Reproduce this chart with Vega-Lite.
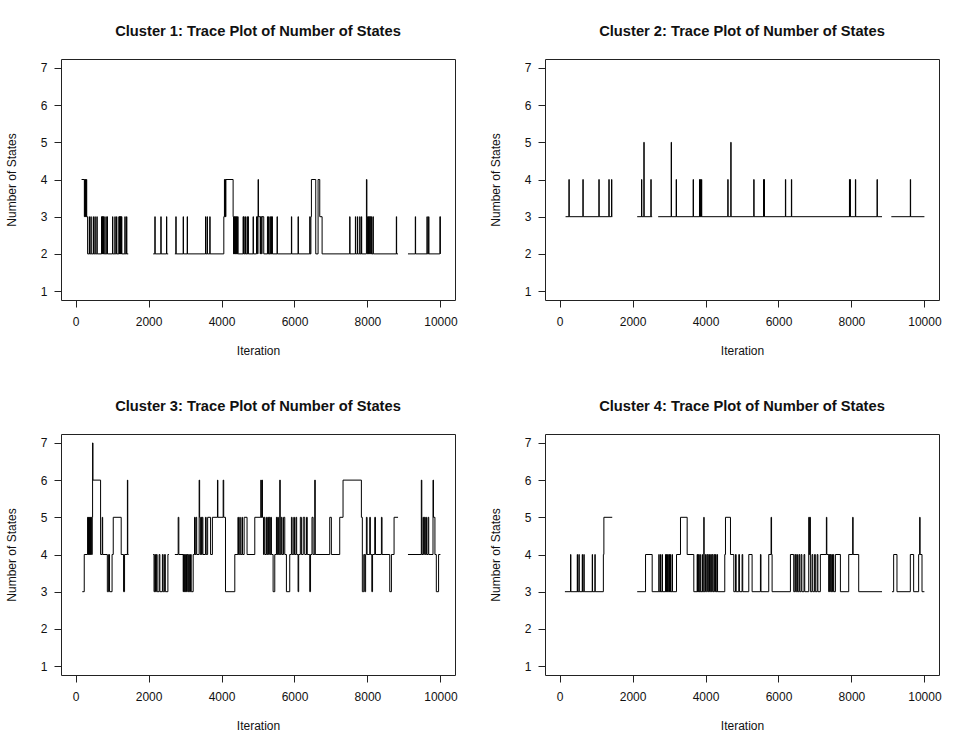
{
"$schema": "https://vega.github.io/schema/vega-lite/v6.json",
"padding": {"top": 23, "left": 4, "right": 5, "bottom": 5},
"background": "white",
"bounds": "flush",
"columns": 2,
"spacing": {"row": 134, "column": 90},
"config": {
 "font": "Liberation Sans",
 "view": {"stroke": "#222", "strokeWidth": 1},
 "axis": {"grid": false, "domain": false, "ticks": true, "tickColor": "#222", "tickSize": 7, "labelFontSize": 12, "titleFontSize": 12, "titleFontWeight": "normal", "labelColor": "#111", "titleColor": "#111", "labelFont": "Liberation Sans", "titleFont": "Liberation Sans", "labelFlush": false},
 "axisX": {"labelPadding": 9, "titlePadding": 18},
 "axisY": {"labelPadding": 7, "titlePadding": 22, "labelAngle": 0},
 "title": {"fontSize": 14.7, "fontWeight": "bold", "font": "Liberation Sans", "offset": 20, "anchor": "middle", "color": "#111"}
},
"datasets": {
"p1": [{"s":1,"i":164,"v":4},{"s":1,"i":240,"v":3},{"s":1,"i":250,"v":4},{"s":1,"i":262,"v":3},{"s":1,"i":272,"v":4},{"s":1,"i":285,"v":3},{"s":1,"i":295,"v":4},{"s":1,"i":305,"v":3},{"s":1,"i":329,"v":2},
{"s":1,"i":374,"v":3},{"s":1,"i":382,"v":2},{"s":1,"i":420,"v":3},{"s":1,"i":428,"v":2},{"s":1,"i":484,"v":3},{"s":1,"i":492,"v":2},{"s":1,"i":530,"v":3},{"s":1,"i":538,"v":2},{"s":1,"i":584,"v":3},{"s":1,"i":592,"v":2},{"s":1,"i":712,"v":3},{"s":1,"i":720,"v":2},{"s":1,"i":725,"v":3},{"s":1,"i":733,"v":2},{"s":1,"i":740,"v":3},{"s":1,"i":748,"v":2},{"s":1,"i":760,"v":3},{"s":1,"i":768,"v":2},{"s":1,"i":776,"v":3},{"s":1,"i":784,"v":2},{"s":1,"i":831,"v":3},{"s":1,"i":839,"v":2},{"s":1,"i":867,"v":3},{"s":1,"i":875,"v":2},{"s":1,"i":1013,"v":3},{"s":1,"i":1021,"v":2},{"s":1,"i":1077,"v":3},{"s":1,"i":1085,"v":2},{"s":1,"i":1123,"v":3},{"s":1,"i":1131,"v":2},{"s":1,"i":1187,"v":3},{"s":1,"i":1195,"v":2},{"s":1,"i":1200,"v":3},{"s":1,"i":1208,"v":2},{"s":1,"i":1214,"v":3},{"s":1,"i":1222,"v":2},{"s":1,"i":1228,"v":3},{"s":1,"i":1236,"v":2},{"s":1,"i":1242,"v":3},{"s":1,"i":1250,"v":2},{"s":1,"i":1260,"v":3},{"s":1,"i":1268,"v":2},{"s":1,"i":1351,"v":3},{"s":1,"i":1359,"v":2},{"s":1,"i":1397,"v":3},{"s":1,"i":1405,"v":2},{"s":1,"i":1443,"v":2},
{"s":2,"i":2127,"v":2},{"s":2,"i":2173,"v":3},{"s":2,"i":2181,"v":2},{"s":2,"i":2337,"v":3},{"s":2,"i":2345,"v":2},{"s":2,"i":2492,"v":3},{"s":2,"i":2500,"v":2},{"s":2,"i":2538,"v":2},
{"s":3,"i":2721,"v":2},{"s":3,"i":2748,"v":3},{"s":3,"i":2756,"v":2},{"s":3,"i":2949,"v":3},{"s":3,"i":2957,"v":2},{"s":3,"i":3059,"v":3},{"s":3,"i":3067,"v":2},{"s":3,"i":3561,"v":3},{"s":3,"i":3569,"v":2},{"s":3,"i":3606,"v":3},{"s":3,"i":3614,"v":2},{"s":3,"i":3679,"v":3},{"s":3,"i":3687,"v":2},
{"s":3,"i":4063,"v":3},{"s":3,"i":4080,"v":4},{"s":3,"i":4090,"v":3},{"s":3,"i":4100,"v":4},{"s":3,"i":4110,"v":3},{"s":3,"i":4120,"v":4},{"s":3,"i":4318,"v":3},{"s":3,"i":4330,"v":2},{"s":3,"i":4340,"v":3},{"s":3,"i":4350,"v":2},{"s":3,"i":4360,"v":3},{"s":3,"i":4372,"v":2},{"s":3,"i":4385,"v":3},{"s":3,"i":4398,"v":2},{"s":3,"i":4410,"v":3},{"s":3,"i":4425,"v":2},{"s":3,"i":4440,"v":3},{"s":3,"i":4455,"v":2},
{"s":3,"i":4592,"v":3},{"s":3,"i":4600,"v":2},{"s":3,"i":4610,"v":3},{"s":3,"i":4618,"v":2},{"s":3,"i":4650,"v":3},{"s":3,"i":4658,"v":2},{"s":3,"i":4700,"v":3},{"s":3,"i":4708,"v":2},{"s":3,"i":4729,"v":3},{"s":3,"i":4737,"v":2},{"s":3,"i":4866,"v":3},{"s":3,"i":4874,"v":2},
{"s":3,"i":4959,"v":3},{"s":3,"i":4990,"v":2},{"s":3,"i":4998,"v":3},{"s":3,"i":5003,"v":4},{"s":3,"i":5012,"v":3},{"s":3,"i":5060,"v":2},{"s":3,"i":5070,"v":3},{"s":3,"i":5100,"v":2},{"s":3,"i":5110,"v":3},{"s":3,"i":5158,"v":2},
{"s":3,"i":5259,"v":3},{"s":3,"i":5267,"v":2},{"s":3,"i":5290,"v":3},{"s":3,"i":5298,"v":2},{"s":3,"i":5330,"v":3},{"s":3,"i":5338,"v":2},{"s":3,"i":5360,"v":3},{"s":3,"i":5368,"v":2},{"s":3,"i":5387,"v":3},{"s":3,"i":5395,"v":2},{"s":3,"i":5523,"v":3},{"s":3,"i":5531,"v":2},{"s":3,"i":5916,"v":3},{"s":3,"i":5924,"v":2},{"s":3,"i":6099,"v":3},{"s":3,"i":6107,"v":2},{"s":3,"i":6419,"v":3},{"s":3,"i":6427,"v":2},
{"s":3,"i":6450,"v":3},{"s":3,"i":6464,"v":4},{"s":3,"i":6583,"v":2},{"s":3,"i":6647,"v":4},{"s":3,"i":6693,"v":3},{"s":3,"i":6757,"v":2},
{"s":3,"i":7514,"v":3},{"s":3,"i":7522,"v":2},{"s":3,"i":7670,"v":3},{"s":3,"i":7678,"v":2},{"s":3,"i":7725,"v":3},{"s":3,"i":7733,"v":2},{"s":3,"i":7789,"v":3},{"s":3,"i":7797,"v":2},{"s":3,"i":7835,"v":3},{"s":3,"i":7843,"v":2},
{"s":3,"i":7972,"v":4},{"s":3,"i":7985,"v":3},{"s":3,"i":8000,"v":2},{"s":3,"i":8015,"v":3},{"s":3,"i":8030,"v":2},{"s":3,"i":8045,"v":3},{"s":3,"i":8060,"v":2},{"s":3,"i":8075,"v":3},{"s":3,"i":8090,"v":2},{"s":3,"i":8109,"v":3},{"s":3,"i":8120,"v":2},
{"s":3,"i":8153,"v":3},{"s":3,"i":8161,"v":2},{"s":3,"i":8792,"v":3},{"s":3,"i":8800,"v":2},{"s":3,"i":8838,"v":2},
{"s":4,"i":9111,"v":2},{"s":4,"i":9312,"v":3},{"s":4,"i":9320,"v":2},{"s":4,"i":9632,"v":3},{"s":4,"i":9640,"v":2},{"s":4,"i":9677,"v":3},{"s":4,"i":9685,"v":2},{"s":4,"i":9985,"v":3},{"s":4,"i":10000,"v":2}],
"p2": [{"s":1,"i":164,"v":3},{"s":1,"i":256,"v":4},{"s":1,"i":264,"v":3},{"s":1,"i":639,"v":4},{"s":1,"i":647,"v":3},{"s":1,"i":1077,"v":4},{"s":1,"i":1085,"v":3},{"s":1,"i":1351,"v":4},{"s":1,"i":1359,"v":3},{"s":1,"i":1424,"v":4},{"s":1,"i":1432,"v":3},{"s":1,"i":1443,"v":3},
{"s":2,"i":2127,"v":3},{"s":2,"i":2246,"v":4},{"s":2,"i":2254,"v":3},{"s":2,"i":2310,"v":5},{"s":2,"i":2318,"v":3},{"s":2,"i":2502,"v":4},{"s":2,"i":2510,"v":3},{"s":2,"i":2538,"v":3},
{"s":3,"i":2702,"v":3},{"s":3,"i":3059,"v":5},{"s":3,"i":3067,"v":3},{"s":3,"i":3196,"v":4},{"s":3,"i":3204,"v":3},{"s":3,"i":3661,"v":4},{"s":3,"i":3669,"v":3},{"s":3,"i":3835,"v":4},{"s":3,"i":3843,"v":3},{"s":3,"i":3855,"v":4},{"s":3,"i":3863,"v":3},{"s":3,"i":3889,"v":4},{"s":3,"i":3897,"v":3},{"s":3,"i":4611,"v":4},{"s":3,"i":4619,"v":3},{"s":3,"i":4693,"v":5},{"s":3,"i":4701,"v":3},{"s":3,"i":5323,"v":4},{"s":3,"i":5331,"v":3},{"s":3,"i":5590,"v":4},{"s":3,"i":5598,"v":3},{"s":3,"i":5608,"v":4},{"s":3,"i":5616,"v":3},{"s":3,"i":6190,"v":4},{"s":3,"i":6198,"v":3},{"s":3,"i":6354,"v":4},{"s":3,"i":6362,"v":3},{"s":3,"i":7945,"v":4},{"s":3,"i":7953,"v":3},{"s":3,"i":7963,"v":4},{"s":3,"i":7971,"v":3},{"s":3,"i":8109,"v":4},{"s":3,"i":8117,"v":3},{"s":3,"i":8702,"v":4},{"s":3,"i":8710,"v":3},{"s":3,"i":8838,"v":3},
{"s":4,"i":9093,"v":3},{"s":4,"i":9614,"v":4},{"s":4,"i":9622,"v":3},{"s":4,"i":10000,"v":3}],
"p3": [{"s":1,"i":183,"v":3},{"s":1,"i":237,"v":4},{"s":1,"i":330,"v":5},{"s":1,"i":340,"v":4},{"s":1,"i":352,"v":5},{"s":1,"i":362,"v":4},{"s":1,"i":375,"v":5},{"s":1,"i":385,"v":4},{"s":1,"i":398,"v":5},{"s":1,"i":410,"v":4},{"s":1,"i":425,"v":5},{"s":1,"i":440,"v":4},{"s":1,"i":456,"v":5},{"s":1,"i":466,"v":7},{"s":1,"i":476,"v":6},{"s":1,"i":685,"v":4},{"s":1,"i":730,"v":5},{"s":1,"i":742,"v":4},{"s":1,"i":870,"v":3},{"s":1,"i":905,"v":4},{"s":1,"i":930,"v":3},{"s":1,"i":1000,"v":4},{"s":1,"i":1032,"v":5},{"s":1,"i":1250,"v":4},{"s":1,"i":1315,"v":3},{"s":1,"i":1342,"v":4},{"s":1,"i":1420,"v":6},{"s":1,"i":1430,"v":4},{"s":1,"i":1452,"v":4},
{"s":2,"i":2127,"v":4},{"s":2,"i":2150,"v":3},{"s":2,"i":2170,"v":4},{"s":2,"i":2190,"v":3},{"s":2,"i":2215,"v":4},{"s":2,"i":2235,"v":3},{"s":2,"i":2290,"v":4},{"s":2,"i":2310,"v":3},{"s":2,"i":2380,"v":4},{"s":2,"i":2400,"v":3},{"s":2,"i":2440,"v":4},{"s":2,"i":2460,"v":3},{"s":2,"i":2530,"v":4},{"s":2,"i":2557,"v":4},
{"s":3,"i":2721,"v":4},{"s":3,"i":2812,"v":5},{"s":3,"i":2830,"v":4},{"s":3,"i":2949,"v":3},{"s":3,"i":2960,"v":4},{"s":3,"i":2975,"v":3},{"s":3,"i":2990,"v":4},{"s":3,"i":3005,"v":3},{"s":3,"i":3020,"v":4},{"s":3,"i":3040,"v":3},{"s":3,"i":3060,"v":4},{"s":3,"i":3080,"v":3},{"s":3,"i":3100,"v":4},{"s":3,"i":3120,"v":3},{"s":3,"i":3150,"v":4},{"s":3,"i":3170,"v":3},{"s":3,"i":3223,"v":4},{"s":3,"i":3260,"v":5},{"s":3,"i":3275,"v":4},{"s":3,"i":3300,"v":5},{"s":3,"i":3320,"v":4},{"s":3,"i":3387,"v":6},{"s":3,"i":3400,"v":5},{"s":3,"i":3420,"v":4},{"s":3,"i":3440,"v":5},{"s":3,"i":3455,"v":4},{"s":3,"i":3470,"v":5},{"s":3,"i":3490,"v":4},{"s":3,"i":3560,"v":5},{"s":3,"i":3580,"v":4},{"s":3,"i":3620,"v":5},{"s":3,"i":3700,"v":4},{"s":3,"i":3750,"v":5},{"s":3,"i":3889,"v":6},{"s":3,"i":3900,"v":5},{"s":3,"i":4045,"v":6},{"s":3,"i":4060,"v":5},{"s":3,"i":4109,"v":3},{"s":3,"i":4364,"v":4},{"s":3,"i":4450,"v":5},{"s":3,"i":4465,"v":4},{"s":3,"i":4500,"v":5},{"s":3,"i":4515,"v":4},{"s":3,"i":4560,"v":5},{"s":3,"i":4575,"v":4},{"s":3,"i":4620,"v":5},{"s":3,"i":4700,"v":4},{"s":3,"i":4912,"v":5},{"s":3,"i":5076,"v":6},{"s":3,"i":5090,"v":5},{"s":3,"i":5110,"v":6},{"s":3,"i":5122,"v":5},{"s":3,"i":5150,"v":4},{"s":3,"i":5170,"v":5},{"s":3,"i":5190,"v":4},{"s":3,"i":5231,"v":5},{"s":3,"i":5250,"v":4},{"s":3,"i":5270,"v":5},{"s":3,"i":5290,"v":4},{"s":3,"i":5310,"v":5},{"s":3,"i":5330,"v":4},{"s":3,"i":5350,"v":5},{"s":3,"i":5368,"v":4},{"s":3,"i":5414,"v":3},{"s":3,"i":5460,"v":4},{"s":3,"i":5505,"v":5},{"s":3,"i":5520,"v":4},{"s":3,"i":5540,"v":5},{"s":3,"i":5560,"v":4},{"s":3,"i":5596,"v":6},{"s":3,"i":5610,"v":4},{"s":3,"i":5640,"v":5},{"s":3,"i":5660,"v":4},{"s":3,"i":5700,"v":5},{"s":3,"i":5734,"v":4},{"s":3,"i":5779,"v":3},{"s":3,"i":5870,"v":4},{"s":3,"i":5916,"v":5},{"s":3,"i":5935,"v":4},{"s":3,"i":5980,"v":5},{"s":3,"i":6000,"v":4},{"s":3,"i":6040,"v":5},{"s":3,"i":6060,"v":4},{"s":3,"i":6099,"v":3},{"s":3,"i":6115,"v":4},{"s":3,"i":6160,"v":5},{"s":3,"i":6190,"v":4},{"s":3,"i":6240,"v":5},{"s":3,"i":6281,"v":4},{"s":3,"i":6330,"v":5},{"s":3,"i":6350,"v":4},{"s":3,"i":6418,"v":3},{"s":3,"i":6440,"v":4},{"s":3,"i":6480,"v":5},{"s":3,"i":6510,"v":4},{"s":3,"i":6555,"v":6},{"s":3,"i":6570,"v":4},{"s":3,"i":6966,"v":5},{"s":3,"i":7011,"v":4},{"s":3,"i":7240,"v":5},{"s":3,"i":7331,"v":6},{"s":3,"i":7834,"v":5},{"s":3,"i":7860,"v":3},{"s":3,"i":7900,"v":4},{"s":3,"i":7926,"v":3},{"s":3,"i":7950,"v":4},{"s":3,"i":7971,"v":5},{"s":3,"i":7990,"v":4},{"s":3,"i":8063,"v":5},{"s":3,"i":8080,"v":4},{"s":3,"i":8120,"v":3},{"s":3,"i":8140,"v":4},{"s":3,"i":8200,"v":5},{"s":3,"i":8220,"v":4},{"s":3,"i":8383,"v":5},{"s":3,"i":8400,"v":4},{"s":3,"i":8611,"v":3},{"s":3,"i":8657,"v":4},{"s":3,"i":8730,"v":5},{"s":3,"i":8839,"v":5},
{"s":4,"i":9111,"v":4},{"s":4,"i":9477,"v":6},{"s":4,"i":9490,"v":4},{"s":4,"i":9523,"v":5},{"s":4,"i":9540,"v":4},{"s":4,"i":9560,"v":5},{"s":4,"i":9580,"v":4},{"s":4,"i":9600,"v":5},{"s":4,"i":9620,"v":4},{"s":4,"i":9660,"v":5},{"s":4,"i":9680,"v":4},{"s":4,"i":9797,"v":6},{"s":4,"i":9810,"v":5},{"s":4,"i":9850,"v":4},{"s":4,"i":9888,"v":3},{"s":4,"i":9950,"v":4},{"s":4,"i":10000,"v":4}],
"p4": [{"s":1,"i":146,"v":3},{"s":1,"i":301,"v":4},{"s":1,"i":309,"v":3},{"s":1,"i":484,"v":4},{"s":1,"i":492,"v":3},{"s":1,"i":530,"v":4},{"s":1,"i":538,"v":3},{"s":1,"i":621,"v":4},{"s":1,"i":629,"v":3},{"s":1,"i":666,"v":4},{"s":1,"i":674,"v":3},{"s":1,"i":895,"v":4},{"s":1,"i":903,"v":3},{"s":1,"i":968,"v":4},{"s":1,"i":976,"v":3},{"s":1,"i":1200,"v":4},{"s":1,"i":1214,"v":5},{"s":1,"i":1443,"v":5},
{"s":2,"i":2127,"v":3},{"s":2,"i":2356,"v":4},{"s":2,"i":2538,"v":3},{"s":2,"i":2721,"v":4},{"s":2,"i":2729,"v":3},{"s":2,"i":2766,"v":4},{"s":2,"i":2774,"v":3},{"s":2,"i":2812,"v":4},{"s":2,"i":2820,"v":3},{"s":2,"i":2903,"v":4},{"s":2,"i":2911,"v":3},{"s":2,"i":2930,"v":4},{"s":2,"i":2938,"v":3},{"s":2,"i":2949,"v":4},{"s":2,"i":2957,"v":3},{"s":2,"i":2990,"v":4},{"s":2,"i":2998,"v":3},{"s":2,"i":3013,"v":4},{"s":2,"i":3021,"v":3},{"s":2,"i":3040,"v":4},{"s":2,"i":3048,"v":3},{"s":2,"i":3086,"v":4},{"s":2,"i":3094,"v":3},{"s":2,"i":3205,"v":4},{"s":2,"i":3314,"v":5},{"s":2,"i":3497,"v":4},{"s":2,"i":3679,"v":3},{"s":2,"i":3771,"v":4},{"s":2,"i":3779,"v":3},{"s":2,"i":3790,"v":4},{"s":2,"i":3798,"v":3},{"s":2,"i":3816,"v":4},{"s":2,"i":3824,"v":3},{"s":2,"i":3850,"v":4},{"s":2,"i":3858,"v":3},{"s":2,"i":3908,"v":4},{"s":2,"i":3916,"v":3},{"s":2,"i":3953,"v":5},{"s":2,"i":3962,"v":3},{"s":2,"i":3999,"v":4},{"s":2,"i":4020,"v":3},{"s":2,"i":4050,"v":4},{"s":2,"i":4070,"v":3},{"s":2,"i":4090,"v":4},{"s":2,"i":4110,"v":3},{"s":2,"i":4140,"v":4},{"s":2,"i":4160,"v":3},{"s":2,"i":4182,"v":4},{"s":2,"i":4200,"v":3},{"s":2,"i":4230,"v":4},{"s":2,"i":4250,"v":3},{"s":2,"i":4273,"v":4},{"s":2,"i":4290,"v":3},{"s":2,"i":4318,"v":4},{"s":2,"i":4330,"v":3},{"s":2,"i":4528,"v":4},{"s":2,"i":4547,"v":5},{"s":2,"i":4684,"v":4},{"s":2,"i":4775,"v":3},{"s":2,"i":4821,"v":4},{"s":2,"i":4840,"v":3},{"s":2,"i":4912,"v":4},{"s":2,"i":4930,"v":3},{"s":2,"i":5003,"v":4},{"s":2,"i":5020,"v":3},{"s":2,"i":5186,"v":4},{"s":2,"i":5277,"v":3},{"s":2,"i":5505,"v":4},{"s":2,"i":5520,"v":3},{"s":2,"i":5733,"v":4},{"s":2,"i":5797,"v":5},{"s":2,"i":5810,"v":4},{"s":2,"i":5825,"v":3},{"s":2,"i":6327,"v":4},{"s":2,"i":6418,"v":3},{"s":2,"i":6450,"v":4},{"s":2,"i":6470,"v":3},{"s":2,"i":6500,"v":4},{"s":2,"i":6520,"v":3},{"s":2,"i":6560,"v":4},{"s":2,"i":6580,"v":3},{"s":2,"i":6620,"v":4},{"s":2,"i":6640,"v":3},{"s":2,"i":6700,"v":4},{"s":2,"i":6720,"v":3},{"s":2,"i":6829,"v":5},{"s":2,"i":6845,"v":4},{"s":2,"i":6860,"v":5},{"s":2,"i":6875,"v":3},{"s":2,"i":6920,"v":4},{"s":2,"i":6940,"v":3},{"s":2,"i":6990,"v":4},{"s":2,"i":7010,"v":3},{"s":2,"i":7060,"v":4},{"s":2,"i":7080,"v":3},{"s":2,"i":7148,"v":4},{"s":2,"i":7313,"v":5},{"s":2,"i":7325,"v":4},{"s":2,"i":7377,"v":3},{"s":2,"i":7390,"v":4},{"s":2,"i":7405,"v":3},{"s":2,"i":7420,"v":4},{"s":2,"i":7440,"v":3},{"s":2,"i":7460,"v":4},{"s":2,"i":7480,"v":3},{"s":2,"i":7500,"v":4},{"s":2,"i":7514,"v":3},{"s":2,"i":7560,"v":4},{"s":2,"i":7697,"v":3},{"s":2,"i":7925,"v":4},{"s":2,"i":8034,"v":5},{"s":2,"i":8046,"v":4},{"s":2,"i":8199,"v":3},{"s":2,"i":8838,"v":3},
{"s":3,"i":9111,"v":3},{"s":3,"i":9157,"v":4},{"s":3,"i":9248,"v":3},{"s":3,"i":9614,"v":4},{"s":3,"i":9705,"v":3},{"s":3,"i":9842,"v":4},{"s":3,"i":9870,"v":5},{"s":3,"i":9882,"v":4},{"s":3,"i":9934,"v":3},{"s":3,"i":10000,"v":3}]
},
"concat": [
{"title": "Cluster 1: Trace Plot of Number of States", "data": {"name": "p1"}, "width": 394, "height": 241,
 "mark": {"type": "line", "interpolate": "step-after", "color": "#000", "strokeWidth": 1},
 "encoding": {
  "x": {"field": "i", "type": "quantitative", "scale": {"domain": [-400, 10400], "nice": false, "zero": false}, "axis": {"values": [0,2000,4000,6000,8000,10000], "format": "d", "title": "Iteration"}},
  "y": {"field": "v", "type": "quantitative", "scale": {"domain": [0.76, 7.24], "nice": false, "zero": false}, "axis": {"values": [1,2,3,4,5,6,7], "title": "Number of States"}},
  "detail": {"field": "s", "type": "nominal"}}},
{"title": "Cluster 2: Trace Plot of Number of States", "data": {"name": "p2"}, "width": 394, "height": 241,
 "mark": {"type": "line", "interpolate": "step-after", "color": "#000", "strokeWidth": 1},
 "encoding": {
  "x": {"field": "i", "type": "quantitative", "scale": {"domain": [-400, 10400], "nice": false, "zero": false}, "axis": {"values": [0,2000,4000,6000,8000,10000], "format": "d", "title": "Iteration"}},
  "y": {"field": "v", "type": "quantitative", "scale": {"domain": [0.76, 7.24], "nice": false, "zero": false}, "axis": {"values": [1,2,3,4,5,6,7], "title": "Number of States"}},
  "detail": {"field": "s", "type": "nominal"}}},
{"title": "Cluster 3: Trace Plot of Number of States", "data": {"name": "p3"}, "width": 394, "height": 241,
 "mark": {"type": "line", "interpolate": "step-after", "color": "#000", "strokeWidth": 1},
 "encoding": {
  "x": {"field": "i", "type": "quantitative", "scale": {"domain": [-400, 10400], "nice": false, "zero": false}, "axis": {"values": [0,2000,4000,6000,8000,10000], "format": "d", "title": "Iteration"}},
  "y": {"field": "v", "type": "quantitative", "scale": {"domain": [0.76, 7.24], "nice": false, "zero": false}, "axis": {"values": [1,2,3,4,5,6,7], "title": "Number of States"}},
  "detail": {"field": "s", "type": "nominal"}}},
{"title": "Cluster 4: Trace Plot of Number of States", "data": {"name": "p4"}, "width": 394, "height": 241,
 "mark": {"type": "line", "interpolate": "step-after", "color": "#000", "strokeWidth": 1},
 "encoding": {
  "x": {"field": "i", "type": "quantitative", "scale": {"domain": [-400, 10400], "nice": false, "zero": false}, "axis": {"values": [0,2000,4000,6000,8000,10000], "format": "d", "title": "Iteration"}},
  "y": {"field": "v", "type": "quantitative", "scale": {"domain": [0.76, 7.24], "nice": false, "zero": false}, "axis": {"values": [1,2,3,4,5,6,7], "title": "Number of States"}},
  "detail": {"field": "s", "type": "nominal"}}}
]
}
